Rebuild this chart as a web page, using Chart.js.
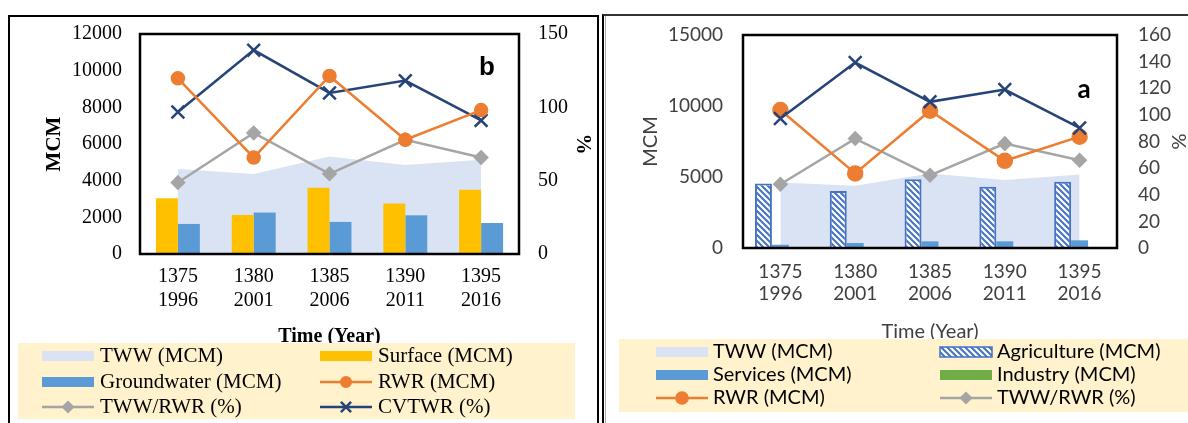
<!DOCTYPE html>
<html>
<head>
<meta charset="utf-8">
<script src="https://cdn.jsdelivr.net/npm/chart.js@4.4.0/dist/chart.umd.min.js"></script>
<style>
  html, body { margin: 0; padding: 0; background: #fff; width: 1188px; height: 423px; overflow: hidden; }
  #chartB { position: absolute; left: 0; top: 0; }
  #chartA { position: absolute; left: 600px; top: 0; }
  .frame { position: absolute; pointer-events: none; }
  #frameB { left: 8px; top: 15px; width: 587px; height: 430px; border: 2px solid #000; border-bottom: none; }
  #frameA { left: 602px; top: 14px; width: 600px; height: 430px; border-left: 2px solid #000; border-top: 2px solid #333; }
  #frameA2 { left: 605px; top: 16px; width: 1px; height: 430px; background: #aaa; }
</style>
</head>
<body>
<canvas id="chartB" width="600" height="423"></canvas>
<canvas id="chartA" width="588" height="423"></canvas>
<div class="frame" id="frameB"></div>
<div class="frame" id="frameA"></div>
<div class="frame" id="frameA2"></div>
<script>
// categories
const years = [['1375', '1996'], ['1380', '2001'], ['1385', '2006'], ['1390', '2011'], ['1395', '2016']];

// panel b (MCM and %)
const twwB = [4640, 4370, 5320, 4850, 5140];
const surfaceB = [3040, 2130, 3620, 2750, 3500];
const groundB = [1640, 2260, 1750, 2110, 1690];
const rwrB = [9580, 5260, 9710, 6230, 7850];
const twwRwrB = [48.7, 82.5, 54.7, 77.9, 65.8];
const cvtwrB = [96.8, 139, 109.8, 118.2, 91.1];

// panel a (MCM and %)
const twwA = [4610, 4380, 5250, 4780, 5180];
const agriA = [4540, 4020, 4850, 4310, 4660];
const servA = [230, 350, 470, 470, 540];
const indA = [15, 20, 25, 25, 30];
const rwrA = [9720, 5250, 9670, 6140, 7840];
const twwRwrA = [47.9, 82.2, 54.6, 78.4, 65.9];
const cvtwrA = [97.2, 139.3, 109.8, 119, 90.2];

// axis ticks
const ticksB = { max: 12000, step: 2000, max1: 150, step1: 50 };
const ticksA = { max: 15000, step: 5000, max1: 160, step1: 20 };

const serif = "'Liberation Serif', 'Times New Roman', serif";
const sans = "Lato, 'Noto Sans', sans-serif";
const plain = { useGrouping: false };

// wide downward diagonal fill for Agriculture
function hatch() {
    const c = document.createElement('canvas');
    c.width = 6; c.height = 6;
    const g = c.getContext('2d');
    g.fillStyle = '#fff';
    g.fillRect(0, 0, 6, 6);
    g.strokeStyle = '#4472C4';
    g.lineWidth = 2;
    g.beginPath();
    g.moveTo(-1, -1); g.lineTo(7, 7);
    g.moveTo(-1, 5); g.lineTo(1, 7);
    g.moveTo(5, -1); g.lineTo(7, 1);
    g.stroke();
    return g.createPattern(c, 'repeat');
}

// black box around the plot area
const plotFrame = {
    id: 'plotFrame',
    afterDatasetsDraw(chart) {
        const { ctx, chartArea: a } = chart;
        ctx.save();
        ctx.strokeStyle = '#000';
        ctx.lineWidth = 2.5;
        ctx.strokeRect(a.left, a.top, a.right - a.left, a.bottom - a.top);
        ctx.restore();
    }
};

// "a" / "b" panel letter
const panelTag = {
    id: 'panelTag',
    afterDraw(chart, args, opts) {
        const { ctx, chartArea: a } = chart;
        ctx.save();
        ctx.font = opts.font;
        ctx.fillStyle = '#000';
        ctx.textAlign = 'center';
        ctx.textBaseline = 'middle';
        ctx.fillText(opts.text, a.right - opts.dx, a.top + opts.dy);
        ctx.restore();
    }
};

// two-column legend on a beige panel
const boxLegend = {
    id: 'boxLegend',
    afterDraw(chart, args, o) {
        const ctx = chart.ctx;
        ctx.save();
        ctx.fillStyle = '#FFF2CC';
        ctx.fillRect(o.x, o.y, o.w, o.h);
        o.items.forEach((idx, i) => {
            const ds = chart.data.datasets[idx];
            const sx = o.cols[i % 2];
            const sy = o.rows[Math.floor(i / 2)];
            if (ds.type === 'line' && ds.fill) {
                ctx.fillStyle = ds.backgroundColor;
                ctx.fillRect(sx, sy - 5, o.sw, 10);
            } else if (ds.type === 'line') {
                ctx.strokeStyle = ds.borderColor;
                ctx.fillStyle = ds.backgroundColor;
                ctx.lineWidth = 2.5;
                ctx.beginPath();
                ctx.moveTo(sx, sy);
                ctx.lineTo(sx + o.sw, sy);
                ctx.stroke();
                Chart.helpers.drawPoint(ctx, {
                    pointStyle: ds.pointStyle, rotation: 0,
                    radius: ds.pointRadius * 0.8, borderWidth: ds.pointBorderWidth || 1
                }, sx + o.sw / 2, sy);
            } else {
                ctx.fillStyle = ds.backgroundColor;
                ctx.fillRect(sx, sy - 5, o.sw, 10);
                if (ds.borderWidth) {
                    ctx.strokeStyle = ds.borderColor;
                    ctx.lineWidth = 1.5;
                    ctx.strokeRect(sx, sy - 5, o.sw, 10);
                }
            }
            ctx.font = o.font;
            ctx.fillStyle = '#000';
            ctx.textBaseline = 'middle';
            ctx.textAlign = 'left';
            ctx.fillText(ds.label, sx + o.sw + o.gap, sy);
        });
        ctx.restore();
    }
};

// ---- panel b ----
new Chart(document.getElementById('chartB'), {
    type: 'bar',
    data: {
        labels: years,
        datasets: [
            { type: 'line', label: 'RWR (MCM)', data: rwrB, yAxisID: 'y', borderColor: '#ED7D31', backgroundColor: '#ED7D31', borderWidth: 2.5, pointStyle: 'circle', pointRadius: 6, tension: 0, order: 1 },
            { type: 'line', label: 'TWW/RWR (%)', data: twwRwrB, yAxisID: 'y1', borderColor: '#A5A5A5', backgroundColor: '#A5A5A5', borderWidth: 2.5, pointStyle: 'rectRot', pointRadius: 6, tension: 0, order: 1 },
            { type: 'line', label: 'CVTWR (%)', data: cvtwrB, yAxisID: 'y1', borderColor: '#264478', backgroundColor: '#264478', borderWidth: 2.5, pointStyle: 'crossRot', pointRadius: 9, pointBorderWidth: 2.5, tension: 0, order: 1 },
            { label: 'Surface (MCM)', data: surfaceB, yAxisID: 'y', backgroundColor: '#FFC000', order: 2 },
            { label: 'Groundwater (MCM)', data: groundB, yAxisID: 'y', backgroundColor: '#5B9BD5', order: 2 },
            { type: 'line', label: 'TWW (MCM)', data: twwB, yAxisID: 'y', fill: 'origin', backgroundColor: '#DAE3F3', borderWidth: 0, pointRadius: 0, tension: 0, order: 3 }
        ]
    },
    options: {
        responsive: false,
        animation: false,
        categoryPercentage: 0.58,
        barPercentage: 1,
        layout: { padding: { left: 30, right: 0, top: 34, bottom: 0 } },
        plugins: {
            legend: { display: false },
            tooltip: { enabled: false },
            panelTag: { text: 'b', font: "bold 26px 'Liberation Sans', sans-serif", dx: 32, dy: 34 },
            boxLegend: {
                x: 18, y: 343, w: 557, h: 76,
                cols: [42, 320], rows: [356, 382, 407], sw: 52, gap: 6,
                font: '21px ' + serif,
                items: [5, 3, 4, 0, 1, 2]
            }
        },
        scales: {
            x: {
                grid: { display: false, drawTicks: false },
                border: { display: false },
                ticks: { color: '#000', font: { family: serif, size: 20 }, padding: 11, maxRotation: 0 },
                title: { display: true, text: 'Time (Year)', color: '#000', font: { family: serif, size: 20, weight: 'bold' }, padding: { top: 0, bottom: 74 } },
                afterFit: s => { s.height = 169; }
            },
            y: {
                min: 0, max: ticksB.max,
                grid: { display: false, drawTicks: false },
                border: { display: false },
                ticks: { stepSize: ticksB.step, format: plain, color: '#000', font: { family: serif, size: 20 }, padding: 18 },
                title: { display: true, text: 'MCM', color: '#000', font: { family: serif, size: 21, weight: 'bold' }, padding: { top: 12, bottom: 0 } },
                afterFit: s => { s.width = 110; }
            },
            y1: {
                position: 'right',
                min: 0, max: ticksB.max1,
                grid: { display: false, drawTicks: false },
                border: { display: false },
                ticks: { stepSize: ticksB.step1, format: plain, color: '#000', font: { family: serif, size: 20 }, padding: 19 },
                title: { display: true, text: '%', color: '#000', font: { family: serif, size: 21, weight: 'bold' }, padding: { top: 5, bottom: 0 } },
                afterFit: s => { s.width = 81; }
            }
        }
    },
    plugins: [plotFrame, panelTag, boxLegend]
});

// ---- panel a ----
new Chart(document.getElementById('chartA'), {
    type: 'bar',
    data: {
        labels: years,
        datasets: [
            { type: 'line', label: 'CVTWR (%)', data: cvtwrA, yAxisID: 'y1', borderColor: '#264478', backgroundColor: '#264478', borderWidth: 2.5, pointStyle: 'crossRot', pointRadius: 9, pointBorderWidth: 2.5, tension: 0, order: 1 },
            { type: 'line', label: 'RWR (MCM)', data: rwrA, yAxisID: 'y', borderColor: '#ED7D31', backgroundColor: '#ED7D31', borderWidth: 2.5, pointStyle: 'circle', pointRadius: 7, tension: 0, order: 1 },
            { type: 'line', label: 'TWW/RWR (%)', data: twwRwrA, yAxisID: 'y1', borderColor: '#A5A5A5', backgroundColor: '#A5A5A5', borderWidth: 2.5, pointStyle: 'rectRot', pointRadius: 6, tension: 0, order: 1 },
            { label: 'Agriculture (MCM)', data: agriA, yAxisID: 'y', backgroundColor: hatch(), borderColor: '#4472C4', borderWidth: 2, order: 2 },
            { label: 'Services (MCM)', data: servA, yAxisID: 'y', backgroundColor: '#5B9BD5', order: 2 },
            { label: 'Industry (MCM)', data: indA, yAxisID: 'y', backgroundColor: '#70AD47', order: 2 },
            { type: 'line', label: 'TWW (MCM)', data: twwA, yAxisID: 'y', fill: 'origin', backgroundColor: '#DAE3F3', borderWidth: 0, pointRadius: 0, tension: 0, order: 3 }
        ]
    },
    options: {
        responsive: false,
        animation: false,
        categoryPercentage: 0.68,
        barPercentage: 1,
        layout: { padding: { left: 25, right: 0, top: 35, bottom: 0 } },
        plugins: {
            legend: { display: false },
            tooltip: { enabled: false },
            panelTag: { text: 'a', font: "bold 26px Lato, sans-serif", dx: 33, dy: 55 },
            boxLegend: {
                x: 19, y: 339, w: 569, h: 73,
                cols: [56, 340], rows: [352, 375, 398], sw: 52, gap: 5,
                font: '20px ' + sans,
                items: [6, 3, 4, 5, 1, 2]
            }
        },
        scales: {
            x: {
                grid: { display: false, drawTicks: false },
                border: { display: false },
                ticks: { color: '#404040', font: { family: sans, size: 19 }, padding: 12, maxRotation: 0 },
                title: { display: true, text: 'Time (Year)', color: '#404040', font: { family: sans, size: 20 }, padding: { top: 0, bottom: 79 } },
                afterFit: s => { s.height = 175; }
            },
            y: {
                min: 0, max: ticksA.max,
                grid: { display: false, drawTicks: false },
                border: { display: false },
                ticks: { stepSize: ticksA.step, format: plain, color: '#404040', font: { family: sans, size: 19 }, padding: 20 },
                title: { display: true, text: 'MCM', color: '#404040', font: { family: sans, size: 20 }, padding: { top: 14, bottom: 0 } },
                afterFit: s => { s.width = 118; }
            },
            y1: {
                position: 'right',
                min: 0, max: ticksA.max1,
                grid: { display: false, drawTicks: false },
                border: { display: false },
                ticks: { stepSize: ticksA.step1, format: plain, color: '#404040', font: { family: sans, size: 19 }, padding: 21 },
                title: { display: true, text: '%', color: '#404040', font: { family: sans, size: 20, lineHeight: 1 }, padding: { top: 0, bottom: 0 } },
                afterFit: s => { s.width = 71; }
            }
        }
    },
    plugins: [plotFrame, panelTag, boxLegend]
});
</script>
</body>
</html>
